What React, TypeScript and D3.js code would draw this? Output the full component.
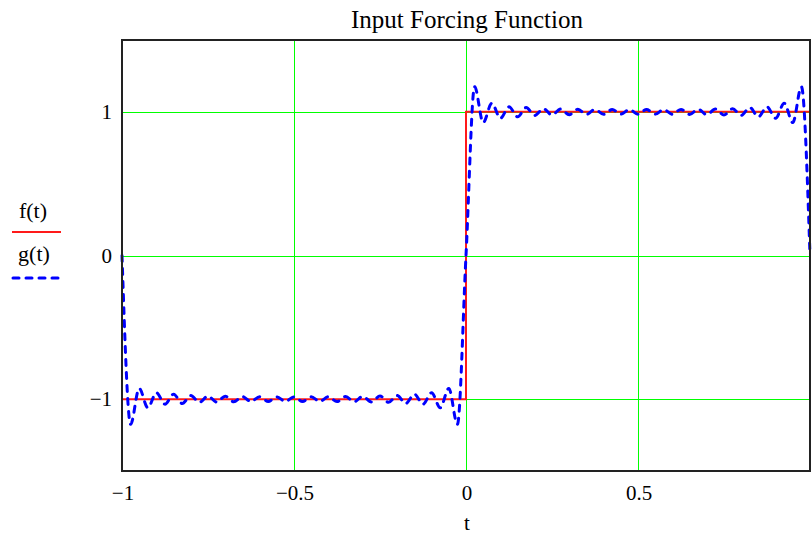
import React, { useEffect, useRef } from 'react';
import * as d3 from 'd3';

// f(t): ideal square wave
const fT = [-1, 0, 0, 1];
const fV = [-1, -1, 1, 1];

// g(t): truncated Fourier series, extrema
const gT = [
  -1, -0.975, -0.95, -0.925, -0.9, -0.875, -0.85, -0.825, -0.8, -0.775, -0.75,
  -0.725, -0.7, -0.675, -0.65, -0.625, -0.6, -0.575, -0.55, -0.525, -0.5,
  -0.475, -0.45, -0.425, -0.4, -0.375, -0.35, -0.325, -0.3, -0.275, -0.25,
  -0.225, -0.2, -0.175, -0.15, -0.125, -0.1, -0.075, -0.05, -0.025, 0,
  0.025, 0.05, 0.075, 0.1, 0.125, 0.15, 0.175, 0.2, 0.225, 0.25,
  0.275, 0.3, 0.325, 0.35, 0.375, 0.4, 0.425, 0.45, 0.475, 0.5,
  0.525, 0.55, 0.575, 0.6, 0.625, 0.65, 0.675, 0.7, 0.725, 0.75,
  0.775, 0.8, 0.825, 0.85, 0.875, 0.9, 0.925, 0.95, 0.975, 1
];
const gV = [
  0, -1.175, -0.925, -1.06, -0.955, -1.035, -0.965, -1.03, -0.975, -1.022, -0.978,
  -1.02, -0.98, -1.018, -0.982, -1.017, -0.983, -1.016, -0.984, -1.016, -0.984,
  -1.016, -0.984, -1.016, -0.983, -1.017, -0.982, -1.018, -0.98, -1.02, -0.978,
  -1.022, -0.975, -1.03, -0.965, -1.035, -0.955, -1.06, -0.925, -1.175, 0,
  1.175, 0.925, 1.06, 0.955, 1.035, 0.965, 1.03, 0.975, 1.022, 0.978,
  1.02, 0.98, 1.018, 0.982, 1.017, 0.983, 1.016, 0.984, 1.016, 0.984,
  1.016, 0.984, 1.016, 0.983, 1.017, 0.982, 1.018, 0.98, 1.02, 0.978,
  1.022, 0.975, 1.03, 0.965, 1.035, 0.955, 1.06, 0.925, 1.175, 0
];

const xTicks = [-1, -0.5, 0, 0.5];
const yTicks = [-1, 0, 1];
const xGrid = [-0.5, 0, 0.5];

const App = () => {
  const ref = useRef<SVGSVGElement>(null);

  useEffect(() => {
    const svg = d3.select(ref.current);
    svg.selectAll('*').remove();

    const left = 122, right = 810, top = 40, bottom = 471;
    const font = '"Liberation Serif", "Times New Roman", serif';

    const x = d3.scaleLinear().domain([-1, 1]).range([left, right]);
    const y = d3.scaleLinear().domain([-1.5, 1.5]).range([bottom, top]);
    const fmt = d3.format('');

    // grid
    svg.append('g')
      .selectAll('line')
      .data(xGrid)
      .join('line')
      .attr('x1', d => Math.round(x(d)) + 0.5).attr('x2', d => Math.round(x(d)) + 0.5)
      .attr('y1', top).attr('y2', bottom)
      .attr('stroke', '#00ff00').attr('stroke-width', 1)
      .attr('shape-rendering', 'crispEdges');

    svg.append('g')
      .selectAll('line')
      .data(yTicks)
      .join('line')
      .attr('x1', left).attr('x2', right)
      .attr('y1', d => Math.round(y(d)) + 0.5).attr('y2', d => Math.round(y(d)) + 0.5)
      .attr('stroke', '#00ff00').attr('stroke-width', 1)
      .attr('shape-rendering', 'crispEdges');

    const line = d3.line<[number, number]>()
      .x(d => x(d[0]))
      .y(d => y(d[1]));

    svg.append('path')
      .datum(fT.map((t, i) => [t, fV[i]] as [number, number]))
      .attr('fill', 'none')
      .attr('stroke', '#ff1a1a')
      .attr('stroke-width', 2)
      .attr('d', line);

    svg.append('path')
      .datum(gT.map((t, i) => [t, gV[i]] as [number, number]))
      .attr('fill', 'none')
      .attr('stroke', '#0000ff')
      .attr('stroke-width', 3)
      .attr('stroke-dasharray', '6,7')
      .attr('stroke-linecap', 'round')
      .attr('d', line.curve(d3.curveMonotoneX));

    // frame
    svg.append('rect')
      .attr('x', left).attr('y', top)
      .attr('width', right - left).attr('height', bottom - top)
      .attr('fill', 'none')
      .attr('stroke', '#222')
      .attr('stroke-width', 2);

    // tick labels
    svg.append('g')
      .selectAll('text')
      .data(xTicks)
      .join('text')
      .attr('x', d => x(d) + 1)
      .attr('y', 500)
      .attr('text-anchor', 'middle')
      .attr('font-family', font)
      .attr('font-size', 21)
      .text(d => fmt(d));

    svg.append('g')
      .selectAll('text')
      .data(yTicks)
      .join('text')
      .attr('x', 112)
      .attr('y', d => y(d) + 7)
      .attr('text-anchor', 'end')
      .attr('font-family', font)
      .attr('font-size', 21)
      .text(d => fmt(d));

    // title and axis label
    svg.append('text')
      .attr('x', 467).attr('y', 28)
      .attr('text-anchor', 'middle')
      .attr('font-family', font).attr('font-size', 25)
      .text('Input Forcing Function');

    svg.append('text')
      .attr('x', 467).attr('y', 530)
      .attr('text-anchor', 'middle')
      .attr('font-family', font).attr('font-size', 21)
      .text('t');

    // legend
    svg.append('text')
      .attr('x', 33).attr('y', 218)
      .attr('text-anchor', 'middle')
      .attr('font-family', font).attr('font-size', 22)
      .text('f(t)');
    svg.append('line')
      .attr('x1', 12).attr('x2', 61).attr('y1', 232).attr('y2', 232)
      .attr('stroke', '#ff1a1a').attr('stroke-width', 2);

    svg.append('text')
      .attr('x', 34).attr('y', 261)
      .attr('text-anchor', 'middle')
      .attr('font-family', font).attr('font-size', 22)
      .text('g(t)');
    svg.append('line')
      .attr('x1', 13).attr('x2', 58).attr('y1', 278).attr('y2', 278)
      .attr('stroke', '#0000ff').attr('stroke-width', 3)
      .attr('stroke-dasharray', '6,7')
      .attr('stroke-linecap', 'round');
  }, []);

  return (
    <svg ref={ref} width={812} height={535}
      style={{ position: 'absolute', left: 0, top: 0, background: '#fff' }} />
  );
};

export default App;
